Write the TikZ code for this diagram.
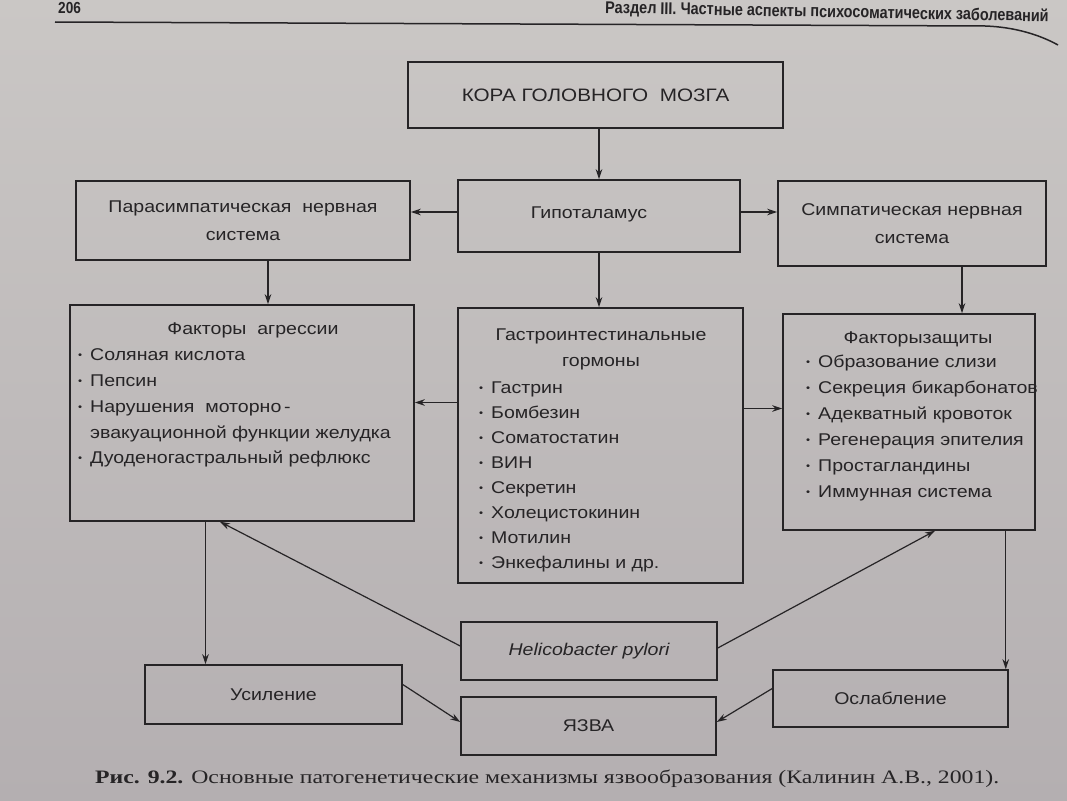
\documentclass[tikz,border=0pt]{standalone}
\usepackage{fontspec}
\setmainfont{Liberation Sans}[FakeStretch=1.15]
\newfontfamily\capfont{Liberation Serif}[FakeStretch=1.25]
\newfontfamily\hdrfont{Liberation Sans}[FakeStretch=0.85]
\usetikzlibrary{arrows.meta}
\definecolor{papertop}{RGB}{202,199,197}
\definecolor{paperbot}{RGB}{180,175,177}
\definecolor{ink}{RGB}{38,36,38}
\newcommand\bul{\makebox[12pt][l]{\raisebox{1.5pt}{\fontsize{10}{10}\selectfont\textbullet}}}
\begin{document}
\begin{tikzpicture}[x=1pt,y=-1pt,
  box/.style={draw=ink, line width=1.5pt, rectangle, inner sep=0pt, text=ink, align=center,
              font=\fontsize{17}{28}\selectfont},
  arr/.style={draw=ink, line width=1.2pt, -{Stealth[length=10pt,width=6.5pt]}},
  item/.style={inner sep=0pt, text=ink, anchor=base west, font=\fontsize{17}{25}\selectfont},
  ttl/.style={inner sep=0pt, text=ink, anchor=base, font=\fontsize{17}{25}\selectfont},
]
\shade[top color=papertop, bottom color=paperbot] (0,0) rectangle (1067,800);
\useasboundingbox (0,0) rectangle (1067,800);
\clip (0,0) rectangle (1067,800);

% page header
\node[inner sep=0pt, anchor=base west, text=ink, font=\hdrfont\bfseries\fontsize{16}{16}\selectfont] (pg) at (58,14) {206};
\node[inner sep=0pt, anchor=base west, rotate=-1.1, text=ink, font=\hdrfont\bfseries\fontsize{17}{17}\selectfont] (hdr) at (605,13) {Раздел III. Частные аспекты психосоматических заболеваний};
\draw[ink, line width=1.5pt] (55,22) -- (985,26) .. controls (1015,27) and (1040,35) .. (1058,45);

% boxes
\node[box, minimum width=375pt, minimum height=66pt, font=\fontsize{18}{22}\selectfont] (kora) at (595.5,95) {КОРА ГОЛОВНОГО\ \ МОЗГА};
\node[box, minimum width=282pt, minimum height=72pt] (hyp) at (599,216) {};
\node[ttl] (hypT) at (589,218) {Гипоталамус};
\node[box, minimum width=334pt, minimum height=79pt] (para) at (243,220.5) {Парасимпатическая\ \ нервная\\система};
\node[box, minimum width=268pt, minimum height=85pt] (symp) at (912,223.5) {Симпатическая нервная\\система};

\node[box, minimum width=344pt, minimum height=216pt] (agr) at (242,413) {};
\node[box, minimum width=285pt, minimum height=275pt] (gast) at (600.5,445.5) {};
\node[box, minimum width=252pt, minimum height=216pt] (def) at (909,422) {};

\node[box, minimum width=256pt, minimum height=58pt, font=\fontsize{17}{22}\selectfont\itshape] (helico) at (589,651) {Helicobacter pylori};
\node[box, minimum width=257pt, minimum height=59pt] (usil) at (273.5,694.5) {Усиление};
\node[box, minimum width=255pt, minimum height=58pt] (yazva) at (588.5,726) {ЯЗВА};
\node[box, minimum width=235pt, minimum height=57pt] (osl) at (890.5,698.5) {Ослабление};

% aggression factors
\node[ttl] (agrT) at (253,334) {Факторы\ \ агрессии};
\node[item] (agr1) at (78,360) {\bul Соляная кислота};
\node[item] (agr2) at (78,386) {\bul Пепсин};
\node[item] (agr3) at (78,412) {\bul Нарушения\ \ моторно\,-};
\node[item] (agr4) at (90,438) {эвакуационной функции желудка};
\node[item] (agr5) at (78,463) {\bul Дуоденогастральный рефлюкс};

% hormones
\node[ttl] (gastT1) at (601,340) {Гастроинтестинальные};
\node[ttl] (gastT2) at (601,366) {гормоны};
\foreach [count=\i] \t in {Гастрин, Бомбезин, Соматостатин, ВИН, Секретин, Холецистокинин, Мотилин, Энкефалины и др.}
  \node[item] (gast\i) at (479,368+25*\i) {\bul\t};

% protection factors
\node[ttl] (defT) at (918,343) {Факторызащиты};
\foreach [count=\i] \t in {Образование слизи, Секреция бикарбонатов, Адекватный кровоток, Регенерация эпителия, Простагландины, Иммунная система}
  \node[item] (def\i) at (806,341+26*\i) {\bul\t};

% connectors
\draw[arr] (kora.south -| hyp.north) -- (hyp.north);
\draw[arr] ([yshift=4pt]hyp.west) -- ([yshift=4pt]hyp.west -| para.east);
\draw[arr] ([yshift=4pt]hyp.east) -- ([yshift=4pt]hyp.east -| symp.west);
\draw[arr] (hyp.south) -- (hyp.south |- gast.north);
\draw[arr] ([xshift=25pt]para.south) -- ([xshift=25pt]para.south |- agr.north);
\draw[arr] ([xshift=50pt]symp.south) -- ([xshift=50pt]symp.south |- def.north);
\draw[arr] ([yshift=43pt]gast.west) -- ([yshift=43pt]gast.west -| agr.east);
\draw[arr] ([yshift=37pt]gast.east) -- ([yshift=37pt]gast.east -| def.west);
\draw[arr] ([xshift=-68pt]usil.north |- agr.south) -- ([xshift=-68pt]usil.north);
\draw[arr] ([xshift=-3pt]osl.north east |- def.south) -- ([xshift=-3pt]osl.north east);
\draw[arr] ([yshift=5pt]helico.west) -- ([xshift=-22pt]agr.south);
\draw[arr] ([yshift=3pt]helico.east) -- ([xshift=26pt]def.south);
\draw[arr] ([yshift=10pt]usil.east) -- ([yshift=4pt]yazva.west);
\draw[arr] ([yshift=10pt]osl.west) -- ([yshift=4pt]yazva.east);

% caption
\node[inner sep=0pt, anchor=base west, text=ink, font=\capfont\fontsize{19}{22}\selectfont] (cap) at (95,783)
  {{\bfseries Рис. 9.2.} Основные патогенетические механизмы язвообразования (Калинин А.В., 2001).};
\end{tikzpicture}
\end{document}
